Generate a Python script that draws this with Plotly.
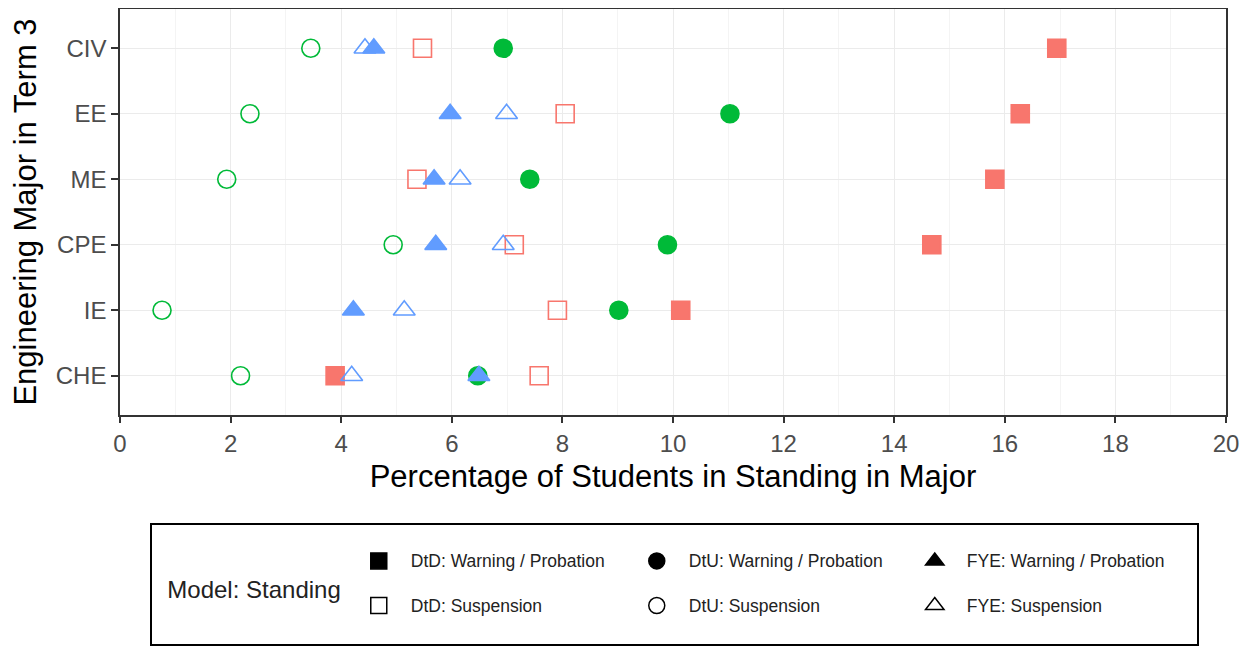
import plotly.graph_objects as go

majors = ["CIV", "EE", "ME", "CPE", "IE", "CHE"]
major_order = ["CHE", "IE", "CPE", "ME", "EE", "CIV"]

dtd_wp = [16.94, 16.28, 15.82, 14.68, 10.14, 3.89]
dtd_susp = [5.47, 8.05, 5.37, 7.13, 7.91, 7.58]
dtu_wp = [6.93, 11.03, 7.41, 9.90, 9.02, 6.47]
dtu_susp = [3.45, 2.35, 1.93, 4.94, 0.76, 2.18]
fye_wp = [4.59, 5.97, 5.68, 5.71, 4.22, 6.49]
fye_susp = [4.43, 6.99, 6.15, 6.93, 5.14, 4.19]

x_ticks = [0, 2, 4, 6, 8, 10, 12, 14, 16, 18, 20]

RED = "#F8766D"
GREEN = "#00BA38"
BLUE = "#619CFF"

FONT = "Liberation Sans, Arial, sans-serif"

fig = go.Figure()

series = [
    ("DtD", "Suspension", dtd_susp, RED, "square-open", 18),
    ("DtD", "Warning / Probation", dtd_wp, RED, "square", 18),
    ("DtU", "Suspension", dtu_susp, GREEN, "circle-open", 18),
    ("DtU", "Warning / Probation", dtu_wp, GREEN, "circle", 18),
    ("FYE", "Suspension", fye_susp, BLUE, "triangle-up-open", 19),
    ("FYE", "Warning / Probation", fye_wp, BLUE, "triangle-up", 19),
]

for model, standing, vals, color, symbol, size in series:
    fig.add_trace(go.Scatter(
        x=vals, y=majors, mode="markers",
        marker=dict(symbol=symbol, size=size, color=color,
                    line=dict(width=1.6, color=color)),
        showlegend=False, hoverinfo="x+y", name=f"{model}: {standing}",
    ))

# legend-only entries (black shapes, as in the reference key)
legend_items = [
    ("DtD", ["Warning / Probation", "Suspension"], ["square", "square-open"], 209),
    ("DtU", ["Warning / Probation", "Suspension"], ["circle", "circle-open"], 209),
    ("FYE", ["Warning / Probation", "Suspension"], ["triangle-up", "triangle-up-open"], 225),
]
for model, standings, symbols, lw in legend_items:
    for i, (st, sym) in enumerate(zip(standings, symbols)):
        kw = {}
        if i == 0:
            kw["legendgrouptitle"] = dict(text="\u00a0", font=dict(size=8))
        fig.add_trace(go.Scatter(
            x=[None], y=[None], mode="markers",
            marker=dict(symbol=sym, size=20, color="black",
                        line=dict(width=1.5, color="black")),
            name=f"<span style='font-size:17.5px'>{model}: {st}</span><br>\u00a0",
            legendgroup=model, legendwidth=lw, showlegend=True, **kw,
        ))

# page body has an 8px margin, so the figure is shrunk by 8px and margins offset
fig.update_layout(
    width=1242, height=639,
    margin=dict(l=112, r=24, t=1, b=232),
    paper_bgcolor="white", plot_bgcolor="white",
    font=dict(family=FONT, color="black"),
    legend=dict(
        orientation="h", traceorder="grouped",
        x=0.0271, xanchor="left", y=-0.2661, yanchor="top",
        bordercolor="black", borderwidth=2,
        font=dict(size=16, color="#222222"),
        itemwidth=54, entrywidth=209, valign="top",
        tracegroupgap=0,
        title=dict(text="\u00a0<br><span style='font-size:24px'>\u00a0\u00a0Model: Standing</span>",
                   side="left", font=dict(size=28, color="#222222")),
    ),
)

fig.update_xaxes(
    range=[0, 20], tickvals=x_ticks, ticktext=[str(v) for v in x_ticks],
    showgrid=True, gridcolor="#EBEBEB", gridwidth=1.4,
    minor=dict(dtick=1, tick0=0, showgrid=True, gridcolor="#F4F4F4", gridwidth=1),
    ticks="outside", ticklen=6, tickwidth=1.5, tickcolor="#333333",
    tickfont=dict(size=24, color="#4D4D4D"),
    showline=True, linecolor="#333333", linewidth=1.5, mirror=True,
    zeroline=False, automargin=False,
    title=dict(text="Percentage of Students in Standing in Major",
               font=dict(size=31, color="black"), standoff=10),
)
fig.update_yaxes(
    type="category", categoryorder="array", categoryarray=major_order,
    range=[-0.6, 5.6],
    showgrid=True, gridcolor="#EBEBEB", gridwidth=1.4,
    ticks="outside", ticklen=7, tickwidth=1.5, tickcolor="#333333",
    tickfont=dict(size=24, color="#4D4D4D"),
    showline=True, linecolor="#333333", linewidth=1.5, mirror=True,
    zeroline=False, automargin=False,
    title=dict(text="Engineering Major in Term 3",
               font=dict(size=31, color="black"), standoff=12),
)

fig.write_html("out.html")
